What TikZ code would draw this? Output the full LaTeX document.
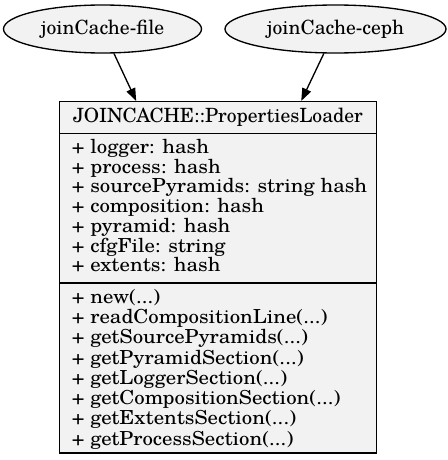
\documentclass[tikz,border=0pt]{standalone}
\usepackage{fontspec}
\setmainfont{TeX Gyre Schola}
\newfontfamily\memberfont[FakeStretch=1.075]{TeX Gyre Schola}
\usetikzlibrary{shapes.geometric,arrows.meta}
\definecolor{nodefill}{HTML}{F2F2F2}
\begin{document}
\begin{tikzpicture}[x=0.75pt,y=-0.75pt,
  every node/.style={font=\fontsize{14.7pt}{17pt}\selectfont},
  usecase/.style={ellipse,draw=black,line width=1pt,fill=nodefill,minimum height=36pt,inner sep=0pt},
  classbox/.style={rectangle,draw=black,line width=1pt,fill=nodefill,minimum width=238pt,minimum height=263.5pt,inner sep=0pt},
  member/.style={anchor=base west,inner sep=0pt,font=\memberfont\fontsize{14.5pt}{17pt}\selectfont},
  dep/.style={-{Triangle[length=9.5pt,width=7pt]},line width=1pt}]
\useasboundingbox (0,0) rectangle (448,460);
\node[usecase,minimum width=148.5pt] (file) at (102.5,29) {joinCache-file};
\node[usecase,minimum width=165.75pt] (ceph) at (335.5,29) {joinCache-ceph};
\node[classbox] (cls) at (218,277.3) {};
\draw[line width=1pt] (59.3,133.3) -- (376.7,133.3);
\draw[line width=1pt] (59.3,283) -- (376.7,283);
\node[anchor=base,inner sep=0pt] (title) at (218,122.7) {JOINCACHE::PropertiesLoader};
\node[member] (a1) at (71.7,153.3) {+ logger: hash};
\node[member] (a2) at (71.7,173.1) {+ process: hash};
\node[member] (a3) at (71.7,192.8) {+ sourcePyramids: string hash};
\node[member] (a4) at (71.7,212.5) {+ composition: hash};
\node[member] (a5) at (71.7,232.2) {+ pyramid: hash};
\node[member] (a6) at (71.7,252.0) {+ cfgFile: string};
\node[member] (a7) at (71.7,271.7) {+ extents: hash};
\node[member] (m1) at (71.7,303.3) {+ new(...)};
\node[member] (m2) at (71.7,323.6) {+ readCompositionLine(...)};
\node[member] (m3) at (71.7,343.9) {+ getSourcePyramids(...)};
\node[member] (m4) at (71.7,364.1) {+ getPyramidSection(...)};
\node[member] (m5) at (71.7,384.4) {+ getLoggerSection(...)};
\node[member] (m6) at (71.7,404.7) {+ getCompositionSection(...)};
\node[member] (m7) at (71.7,424.9) {+ getExtentsSection(...)};
\node[member] (m8) at (71.7,445.2) {+ getProcessSection(...)};
\draw[dep] (file) -- (cls);
\draw[dep] (ceph) -- (cls);
\end{tikzpicture}
\end{document}
